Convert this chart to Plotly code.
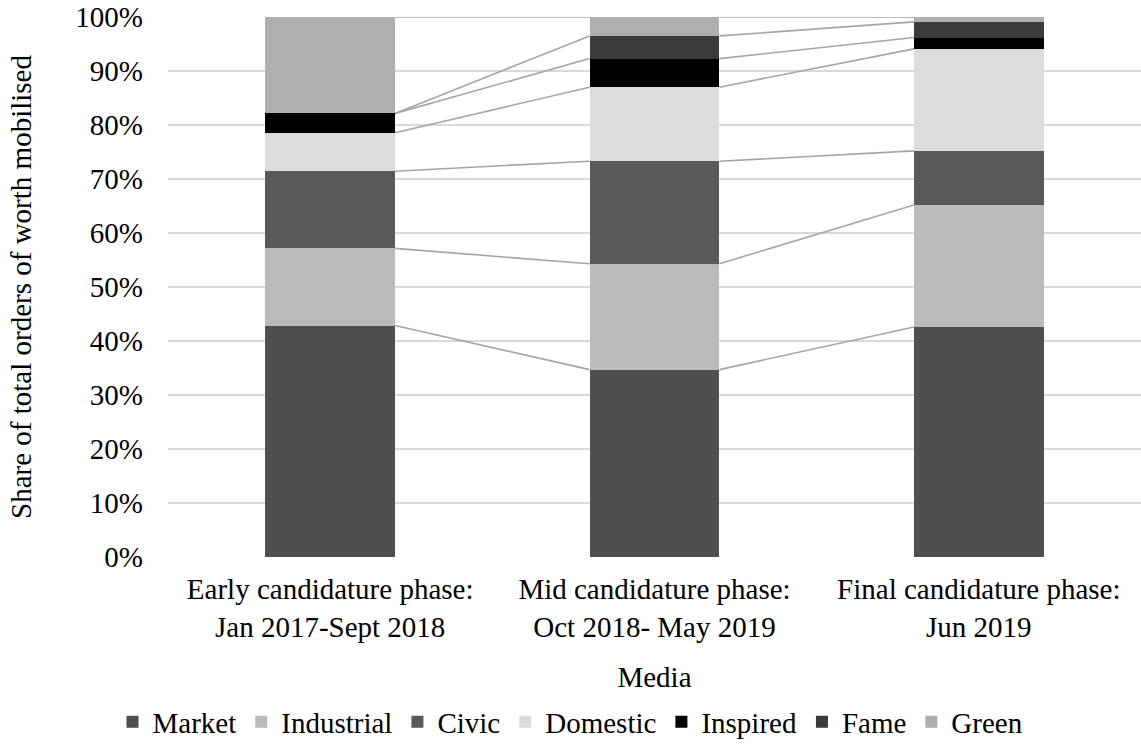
import plotly.graph_objects as go
import numpy as np

# Phases of the candidature (x categories)
phases = [
    "Early candidature phase:<br>Jan 2017-Sept 2018",
    "Mid candidature phase:<br>Oct 2018- May 2019",
    "Final candidature phase:<br>Jun 2019",
]

# Share (%) of each order of worth per phase
market = [42.86, 34.7, 42.6]
industrial = [14.29, 19.6, 22.6]
civic = [14.29, 19.0, 10.0]
domestic = [7.14, 13.7, 18.9]
inspired = [3.57, 5.3, 2.1]
fame = [0.0, 4.2, 2.9]
green = [17.85, 3.5, 0.9]

series_names = ["Market", "Industrial", "Civic", "Domestic", "Inspired", "Fame", "Green"]
series_values = [market, industrial, civic, domestic, inspired, fame, green]
series_colors = ["#4f4f4f", "#bbbbbb", "#595959", "#dcdcdc", "#000000", "#3b3b3b", "#afafaf"]

y_ticks = list(range(0, 101, 10))
y_tick_labels = [f"{v}%" for v in y_ticks]

FONT = "Liberation Serif"
FS = 29
BAR_WIDTH = 0.4
x_pos = np.arange(len(phases))

fig = go.Figure()

for name, vals, color in zip(series_names, series_values, series_colors):
    fig.add_trace(go.Bar(
        x=x_pos, y=vals, name=name, width=BAR_WIDTH,
        marker=dict(color=color, line=dict(width=0)),
    ))

# Series lines joining the top of each segment between adjacent bars
cum = np.cumsum(np.array(series_values), axis=0)
for k in range(len(series_names)):
    xs, ys = [], []
    for i in range(len(phases) - 1):
        xs += [x_pos[i] + BAR_WIDTH / 2, x_pos[i + 1] - BAR_WIDTH / 2, None]
        ys += [cum[k][i], cum[k][i + 1], None]
    fig.add_trace(go.Scatter(
        x=xs, y=ys, mode="lines", showlegend=False, hoverinfo="skip",
        line=dict(color="#a5a5a5", width=1.6),
    ))

fig.update_layout(
    width=1141, height=745,
    barmode="stack",
    plot_bgcolor="white", paper_bgcolor="white",
    font=dict(family=FONT, size=FS, color="#000000"),
    margin=dict(l=168, r=0, t=17, b=188),
    legend=dict(
        orientation="h", xref="container", yref="container",
        x=0.5, xanchor="center", y=0.031, yanchor="middle",
        font=dict(family=FONT, size=FS), traceorder="normal",
        itemwidth=30,
    ),
    xaxis=dict(
        range=[-0.5, 2.5], tickmode="array", tickvals=x_pos, ticktext=phases,
        showgrid=False, zeroline=False, showline=False, ticks="",
        ticklabelstandoff=12,
        tickfont=dict(family=FONT, size=FS),
        title=dict(text="Media", standoff=24, font=dict(family=FONT, size=FS)),
    ),
    yaxis=dict(
        range=[0, 100], tickmode="array", tickvals=y_ticks, ticktext=y_tick_labels,
        showgrid=True, gridcolor="#d9d9d9", gridwidth=1.5,
        zeroline=False, showline=False, ticks="", ticklabelstandoff=24,
        tickfont=dict(family=FONT, size=FS),
        title=dict(text="Share of total orders of worth mobilised", standoff=35,
                   font=dict(family=FONT, size=FS)),
    ),
)

fig.write_html("out.html")
